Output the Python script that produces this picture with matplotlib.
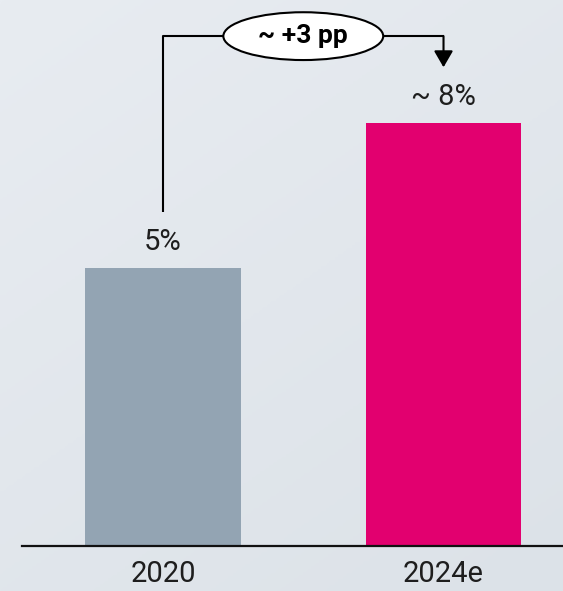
import numpy as np
import matplotlib.pyplot as plt
from matplotlib.patches import Ellipse
from matplotlib.colors import LinearSegmentedColormap

plt.rcParams['font.family'] = ['Roboto', 'DejaVu Sans']

# data
years = ['2020', '2024e']
shares = [5.0, 7.6]
share_labels = ['5%', '~ 8%']
bar_colors = ['#93a4b3', '#e2006f']
change_label = '~ +3 pp'

fig = plt.figure(figsize=(5.63, 5.91), dpi=100)

# soft background gradient over the whole figure
bg = fig.add_axes([0, 0, 1, 1], zorder=-10)
gx, gy = np.meshgrid(np.linspace(0, 1, 200), np.linspace(0, 1, 200))
grad = 0.6 * gy + 0.4 * gx
cmap = LinearSegmentedColormap.from_list('bg', ['#e8ecf1', '#dce2e8'])
bg.imshow(grad, cmap=cmap, aspect='auto', extent=[0, 1, 0, 1], origin='upper')
bg.axis('off')

ax = fig.add_axes([0.039, 0.0761, 0.961, 0.9239])
ax.patch.set_alpha(0)

x = np.arange(len(years))
ax.bar(x, shares, width=0.556, color=bar_colors, zorder=2)

# value labels above the bars
for xi, v, lab in zip(x, shares, share_labels):
    ax.annotate(lab, (xi, v), xytext=(0, 9), textcoords='offset points',
                ha='center', va='bottom', fontsize=21, color='#1e1e1e')

# bracket showing the change between the two bars
y_top = max(shares) + 1.57
ax.plot([x[0], x[0], x[1]], [shares[0] + 1.0, y_top, y_top],
        color='black', lw=1.5, zorder=3, solid_capstyle='butt')
ax.annotate('', xy=(x[1], shares[1] + 1.01), xytext=(x[1], y_top),
            arrowprops=dict(arrowstyle='-|>,head_length=1.0,head_width=0.58',
                            color='black', lw=1.5, shrinkA=0, shrinkB=0),
            zorder=3)
mid = (x[0] + x[1]) / 2
ax.add_patch(Ellipse((mid, y_top), 0.57, 0.86, facecolor='white',
                     edgecolor='black', lw=1.5, zorder=4))
ax.text(mid, y_top, change_label, ha='center', va='center', fontsize=19,
        fontweight='bold', color='black', zorder=5)

ax.set_xlim(-0.503, 1.426)
ax.set_ylim(0, 9.82)
ax.set_xticks(x)
ax.set_xticklabels(years, fontsize=21, color='#1e1e1e')
ax.tick_params(axis='x', length=0, pad=10)
ax.set_yticks([])
for side in ['top', 'right', 'left']:
    ax.spines[side].set_visible(False)
ax.spines['bottom'].set_linewidth(1.6)
ax.spines['bottom'].set_color('#111111')

fig.savefig('out.png', dpi=100)
